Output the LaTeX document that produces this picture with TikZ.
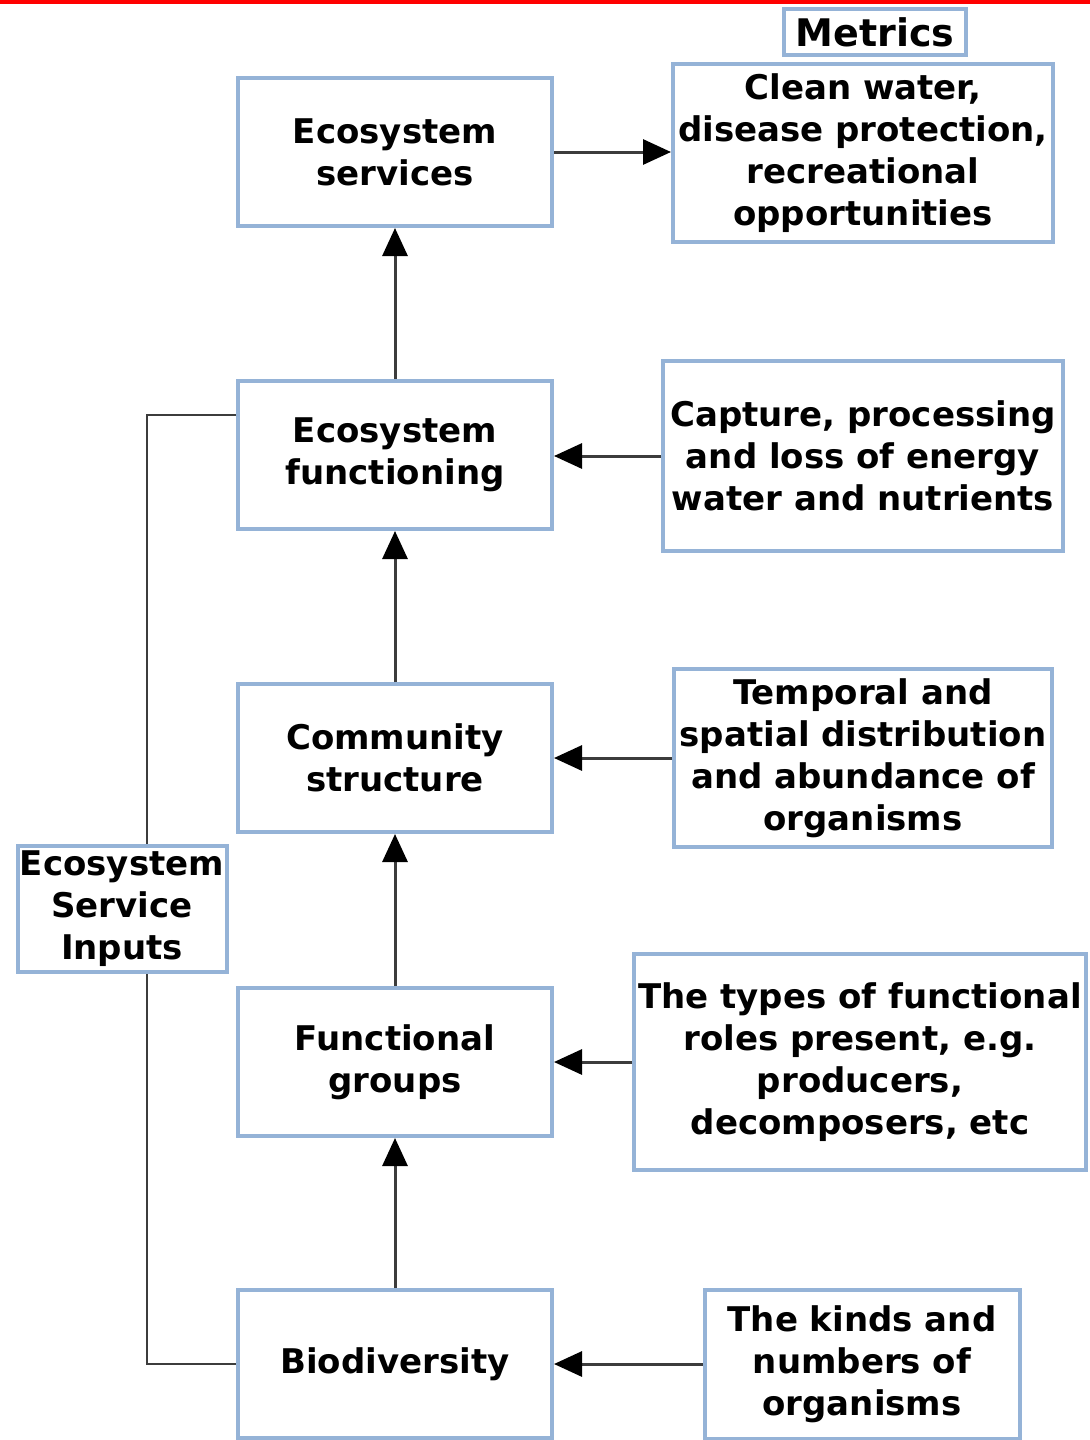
\documentclass[tikz,border=0pt]{standalone}
\usepackage{fontspec}
\setmainfont{DejaVu Sans}
\usetikzlibrary{arrows.meta}
\definecolor{boxblue}{RGB}{149,179,215}
\definecolor{linegray}{RGB}{60,60,60}
\tikzset{>={Triangle[length=14pt,width=12.5pt,color=black]}}

\begin{document}
\begin{tikzpicture}[x=0.5pt,y=-0.5pt,
  box/.style={draw=boxblue,line width=2pt,fill=white,align=center,inner sep=0pt,
    font=\fontsize{17}{21}\selectfont\bfseries},
  mainbox/.style={box,minimum width=157pt,minimum height=74pt},
  flow/.style={->,draw=linegray,line width=1.5pt},
  feed/.style={draw=linegray,line width=1pt}]
\useasboundingbox (0,0) rectangle (1090,1440);
\fill[red] (0,0) rectangle (1090,4);

% main chain
\node[mainbox] (es) at (395,152) {Ecosystem\\services};
\node[mainbox] (ef) at (395,455) {Ecosystem\\functioning};
\node[mainbox] (cs) at (395,758) {Community\\structure};
\node[mainbox] (fg) at (395,1062) {Functional\\groups};
\node[mainbox] (bd) at (395,1364) {Biodiversity};

% metrics
\node[box,minimum width=91pt,minimum height=23pt,
  font=\fontsize{19}{23}\selectfont\bfseries] (mt) at (875,32) {Metrics};
\node[box,minimum width=190pt,minimum height=89pt] (cw) at (863,153)
  {Clean water,\\disease protection,\\recreational\\opportunities};
\node[box,minimum width=200pt,minimum height=95pt] (cp) at (863,456)
  {Capture, processing\\and loss of energy\\water and nutrients};
\node[box,minimum width=189pt,minimum height=89pt] (tp) at (863,758)
  {Temporal and\\spatial distribution\\and abundance of\\organisms};
\node[box,minimum width=226pt,minimum height=108pt] (ty) at (860,1062)
  {The types of functional\\roles present, e.g.\\producers,\\decomposers, etc};
\node[box,minimum width=157.5pt,minimum height=74.5pt] (kd) at (862,1364)
  {The kinds and\\numbers of\\organisms};

% arrows
\draw[flow] (bd) -- (fg);
\draw[flow] (fg) -- (cs);
\draw[flow] (cs) -- (ef);
\draw[flow] (ef) -- (es);
\draw[flow] (es.east) -- (es.east -| cw.west);
\draw[flow] (cp.west) -- (cp.west -| ef.east);
\draw[flow] (tp.west) -- (tp.west -| cs.east);
\draw[flow] (ty.west) -- (ty.west -| fg.east);
\draw[flow] (kd.west) -- (kd.west -| bd.east);

% inputs
\coordinate (tl) at (147,415);
\draw[feed] (ef.west |- tl) -- (tl) |- (bd.west);
\node[box,minimum width=104.5pt,minimum height=63pt] (esi) at (122,909)
  {Ecosystem\\Service\\Inputs};
\end{tikzpicture}
\end{document}
